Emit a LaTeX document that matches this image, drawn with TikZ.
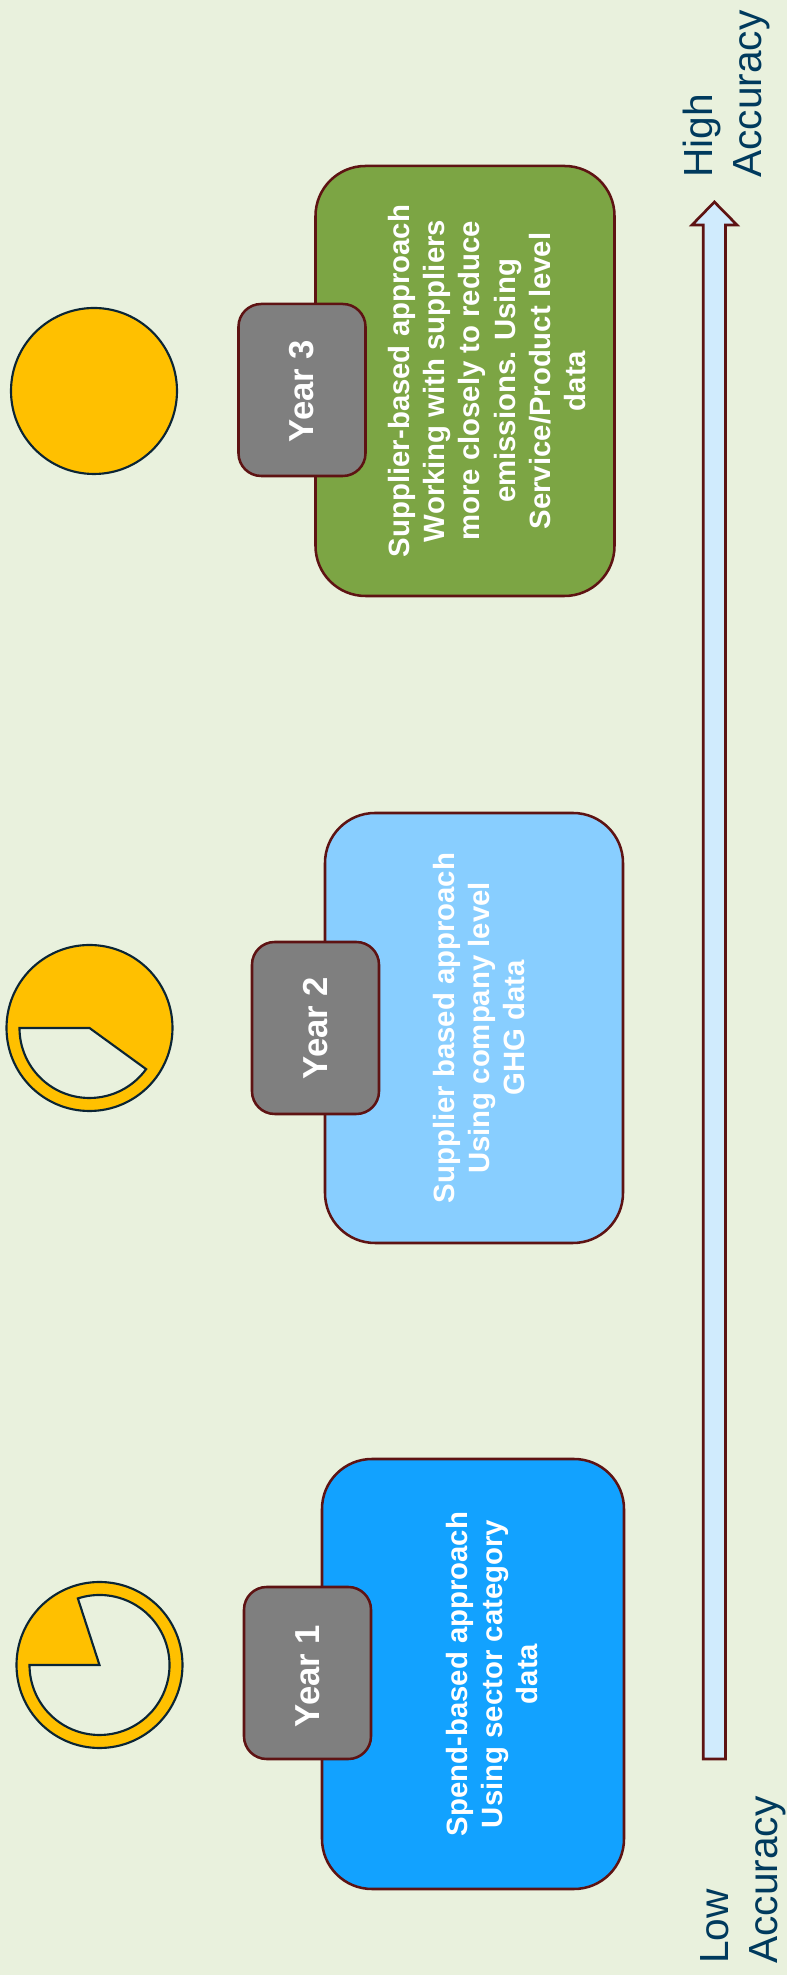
\documentclass[tikz,border=0pt]{standalone}
\usepackage{fontspec}
\setmainfont{Liberation Sans}
\definecolor{bgc}{HTML}{E9F1DD}
\definecolor{edgec}{HTML}{5E1313}
\definecolor{inkc}{HTML}{0B2535}
\definecolor{gold}{HTML}{FFC000}
\definecolor{labelc}{HTML}{003A5D}
\definecolor{blueA}{HTML}{12A2FF}
\definecolor{blueB}{HTML}{88CEFF}
\definecolor{greenC}{HTML}{7CA544}
\definecolor{yearc}{HTML}{7F7F7F}
\definecolor{arrowc}{HTML}{D0EBFD}
\tikzset{
  bigbox/.style={draw=edgec,line width=1.9pt,rounded corners=37.5pt,minimum height=322.5pt,inner sep=0pt},
  yearbox/.style={draw=edgec,line width=1.9pt,rounded corners=17pt,fill=yearc,minimum width=95.25pt,minimum height=129pt,inner sep=0pt},
  yeartext/.style={rotate=90,text=white,font=\fontsize{26}{31}\selectfont\bfseries,inner sep=0pt},
  bodytext/.style={rotate=90,text=white,align=center,font=\fontsize{22}{26.4}\selectfont\bfseries,inner sep=0pt},
  endtext/.style={rotate=90,text=labelc,align=left,font=\fontsize{30.5}{36.8}\selectfont,inner sep=0pt},
  disc/.style={draw=inkc,line width=1.6pt,fill=gold},
  wedge/.style={draw=inkc,line width=1.6pt,fill=bgc,line join=miter},
}
\begin{document}
\begin{tikzpicture}[x=0.75pt,y=0.75pt]
\useasboundingbox (0,0) rectangle (787,1975);
\fill[bgc] (0,0) rectangle (787,1975);
% discs
\coordinate (c1) at (99.5,310);
\coordinate (c2) at (89.5,947);
\coordinate (c3) at (94,1584);
\draw[disc] (c1) circle (83);
\draw[wedge] (c1) -- ++(108:70) arc (108:-180:70) -- cycle;
\draw[disc] (c2) circle (83);
\draw[wedge] (c2) -- ++(180:70) arc (180:324:70) -- cycle;
\draw[disc] (c3) circle (83);
% large boxes
\node[bigbox,fill=blueA,minimum width=226.5pt] (b1) at (473,301) {};
\node[bigbox,fill=blueB,minimum width=223.5pt] (b2) at (474,947) {};
\node[bigbox,fill=greenC,minimum width=224.25pt] (b3) at (465,1594) {};
% year boxes
\node[yearbox] (y1) at (307.5,302) {};
\node[yeartext] (ty1) at (308,299) {Year 1};
\node[yearbox] (y2) at (315.5,947) {};
\node[yeartext] (ty2) at (315.5,947) {Year 2};
\node[yearbox] (y3) at (302,1585) {};
\node[yeartext] (ty3) at (302,1584) {Year 3};
% body text
\node[bodytext] (t1) at (492,301) {Spend-based approach\\Using sector category\\data};
\node[bodytext] (t2) at (479,947) {Supplier based approach\\Using company level\\GHG data};
\node[bodytext] (t3) at (487,1594) {Supplier-based approach\\Working with suppliers\\more closely to reduce\\emissions. Using\\Service/Product level\\data};
% accuracy arrow
\draw[draw=edgec,line width=2pt,fill=arrowc,line join=miter]
  (703.3,216) -- (703.3,1750) -- (692,1750) -- (714.4,1773) -- (737,1750) -- (725.5,1750) -- (725.5,216) -- cycle;
% end labels
\node[endtext,anchor=south west] (high) at (770,1797) {High\\Accuracy};
\node[endtext,anchor=south west] (low) at (786,11) {Low\\Accuracy};
\end{tikzpicture}
\end{document}
